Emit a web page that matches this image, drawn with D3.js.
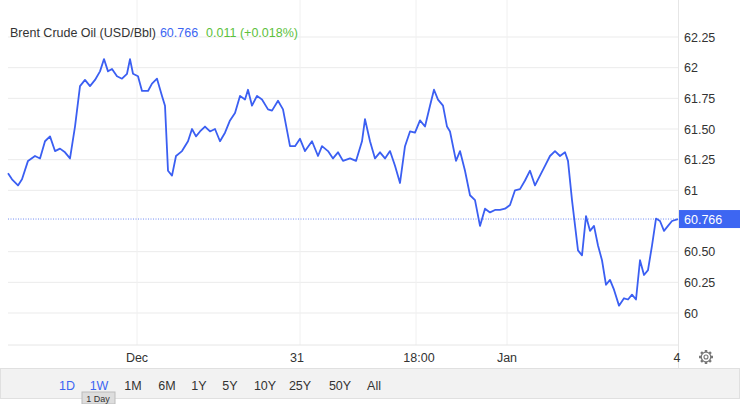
<!DOCTYPE html>
<html><head><meta charset="utf-8">
<script src="https://cdn.jsdelivr.net/npm/d3@7"></script>
<style>body{margin:0;background:#fff;font-family:"Liberation Sans",Arial,sans-serif}</style>
</head><body><svg id="c" width="740" height="404"></svg>
<script>
const times = [8,12,18,22,28,35,40,45,50,55,60,65,70,75,80,85,90,95,100,104,108,112,117,122,127,130,133,138,142,148,152,157,162,165,168,172,176,182,188,192,196,200,205,210,215,220,225,230,235,240,245,248,252,257,262,268,272,278,283,290,295,300,305,312,318,322,328,333,338,343,350,356,362,365,370,375,380,385,390,395,400,405,410,415,420,425,430,434,438,443,447,450,456,460,465,470,475,480,485,490,495,500,505,510,515,520,525,530,535,540,545,550,555,560,565,568,572,578,582,586,590,594,598,602,606,610,614,619,624,628,632,636,640,644,648,652,656,660,664,668,672,678];
const prices = [61.14,61.09,61.04,61.09,61.24,61.28,61.26,61.40,61.44,61.32,61.34,61.31,61.26,61.52,61.85,61.90,61.85,61.90,61.97,62.07,61.97,61.99,61.93,61.91,61.95,62.07,61.95,61.93,61.81,61.81,61.87,61.91,61.77,61.69,61.16,61.12,61.28,61.32,61.40,61.50,61.44,61.48,61.52,61.48,61.50,61.40,61.47,61.57,61.63,61.77,61.74,61.82,61.69,61.77,61.74,61.66,61.65,61.73,61.66,61.36,61.36,61.42,61.32,61.40,61.28,61.36,61.32,61.26,61.31,61.24,61.26,61.24,61.40,61.58,61.40,61.26,61.31,61.26,61.32,61.20,61.06,61.36,61.48,61.47,61.57,61.52,61.69,61.82,61.74,61.69,61.52,61.48,61.24,61.32,61.16,60.96,60.92,60.71,60.85,60.82,60.84,60.84,60.85,60.88,61.00,61.01,61.08,61.16,61.04,61.12,61.20,61.28,61.32,61.28,61.31,61.24,60.92,60.51,60.47,60.79,60.67,60.71,60.55,60.43,60.23,60.27,60.19,60.06,60.12,60.11,60.15,60.11,60.43,60.31,60.35,60.55,60.77,60.75,60.67,60.71,60.75,60.766];
const yTicks = [60,60.25,60.5,61,61.25,61.5,61.75,62,62.25];
const yLabels = ["60","60.25","60.50","61","61.25","61.50","61.75","62","62.25"];
const xTicks = [137,297,419,507,677];
const xLabels = ["Dec","31","18:00","Jan","4"];
const ranges = ["1D","1W","1M","6M","1Y","5Y","10Y","25Y","50Y","All"];
const last = 60.766;

const svg = d3.select("#c");
const x = d3.scaleLinear().domain([8,678]).range([8,678]);
const y = d3.scaleLinear().domain([60,62.25]).range([313,37]);

// grid
svg.append("g").selectAll("line").data(yTicks).join("line")
  .attr("x1",8).attr("x2",678).attr("y1",d=>y(d)).attr("y2",d=>y(d))
  .attr("stroke","#ebebeb");
svg.append("g").selectAll("line").data([137,300,416,507]).join("line")
  .attr("x1",d=>x(d)).attr("x2",d=>x(d)).attr("y1",0).attr("y2",345)
  .attr("stroke","#f0f0f0");
svg.append("line").attr("x1",8).attr("x2",678).attr("y1",345).attr("y2",345).attr("stroke","#e6e6e6");
svg.append("line").attr("x1",678.5).attr("x2",678.5).attr("y1",0).attr("y2",368).attr("stroke","#e6e6e6");

// y labels
svg.append("g").selectAll("text").data(yTicks).join("text")
  .attr("x",684).attr("y",d=>y(d)+4.5).attr("font-size",12.5).attr("fill","#333")
  .text((d,i)=>yLabels[i]);
// x labels
svg.append("g").selectAll("text").data(xTicks).join("text")
  .attr("x",d=>x(d)).attr("y",362).attr("text-anchor","middle").attr("font-size",12.5).attr("fill","#333")
  .text((d,i)=>xLabels[i]);

// last price line
svg.append("line").attr("x1",8).attr("x2",678).attr("y1",y(last)).attr("y2",y(last))
  .attr("stroke","#4d6ef0").attr("stroke-dasharray","1,1.5").attr("stroke-width",0.8);

// line
svg.append("path").datum(d3.zip(times,prices))
  .attr("fill","none").attr("stroke","#3b5ff2").attr("stroke-width",1.8).attr("stroke-linejoin","round")
  .attr("d",d3.line().x(d=>x(d[0])).y(d=>y(d[1])));

// last label
svg.append("rect").attr("x",679).attr("y",y(last)-9).attr("width",61).attr("height",18).attr("fill","#3d66f2");
svg.append("text").attr("x",684).attr("y",y(last)+4.5).attr("font-size",12.5).attr("fill","#fff").text(last.toFixed(3));

// header
const hd = svg.append("text").attr("x",10).attr("y",37).attr("font-size",12.5);
hd.append("tspan").attr("fill","#333").text("Brent Crude Oil (USD/Bbl)");
hd.append("tspan").attr("dx",4).attr("fill","#3d66f2").text("60.766");
hd.append("tspan").attr("dx",8).attr("fill","#5cc13c").text("0.011 (+0.018%)");

// bottom bar
svg.append("rect").attr("x",0.5).attr("y",368.5).attr("width",739).attr("height",30).attr("fill","#f2f2f2").attr("stroke","#e0e0e0");
const bx = [67,99,133,167,199,230,265,300,340,374];
svg.append("g").selectAll("text").data(ranges).join("text")
  .attr("x",(d,i)=>bx[i]).attr("y",390).attr("text-anchor","middle").attr("font-size",12.5)
  .attr("fill",(d,i)=>i<2?"#3d66f2":"#333").text(d=>d);
svg.append("rect").attr("x",82).attr("y",392).attr("width",33).attr("height",12).attr("fill","#ddd").attr("stroke","#bbb");
svg.append("text").attr("x",98).attr("y",401.5).attr("text-anchor","middle").attr("font-size",9).attr("fill","#333").text("1 Day");

// gear
const g = svg.append("g").attr("transform","translate(706,357)");
g.append("path").attr("d",d3.range(8).map(i=>{const a=i*Math.PI/4;return `M${5*Math.cos(a)},${5*Math.sin(a)}L${7*Math.cos(a)},${7*Math.sin(a)}`}).join(""))
  .attr("stroke","#777").attr("stroke-width",2.5);
g.append("circle").attr("r",4.8).attr("fill","none").attr("stroke","#777").attr("stroke-width",1.3);
g.append("circle").attr("r",2).attr("fill","none").attr("stroke","#777").attr("stroke-width",1.1);
</script></body></html>
